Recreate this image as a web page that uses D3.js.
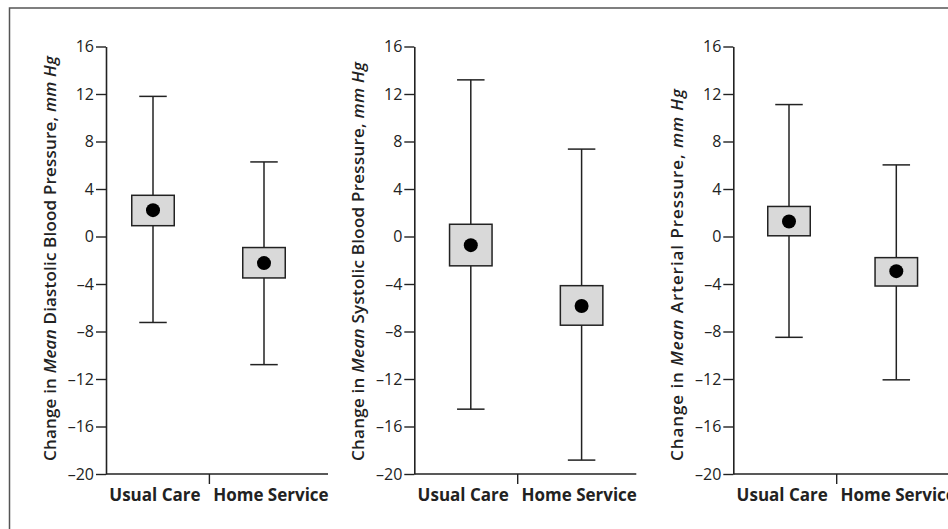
<!DOCTYPE html>
<html>
<head>
<meta charset="utf-8">
<script src="https://cdn.jsdelivr.net/npm/d3@7"></script>
<style>
  html, body { margin: 0; padding: 0; background: #fff; }
  svg { display: block; }
</style>
</head>
<body>
<script>
// ---- data ----
const categories = ["Usual Care", "Home Service"];
const yTicks = [16, 12, 8, 4, 0, -4, -8, -12, -16, -20];
const titlePre = "Change in ";
const titleMean = "Mean";
const titleMain = [
  " Diastolic Blood Pressure, ",
  " Systolic Blood Pressure, ",
  " Arterial Pressure, "
];
const titleUnit = "mm Hg";
const means       = [[2.22, -2.24], [-0.73, -5.85], [1.26, -2.92]];
const boxHigh     = [[3.47, -0.93], [1.03, -4.14], [2.53, -1.78]];
const boxLow      = [[0.91, -3.49], [-2.47, -7.47], [0.06, -4.17]];
const whiskerHigh = [[11.8, 6.28], [13.19, 7.36], [11.11, 6.03]];
const whiskerLow  = [[-7.24, -10.79], [-14.54, -18.83], [-8.49, -12.07]];

// ---- layout ----
const W = 948, H = 529;
const panels = [
  { axisX: 106,   c: [47, 158],     titleLen: 405 },
  { axisX: 414.3, c: [56.5, 167.3], titleLen: 399 },
  { axisX: 733.3, c: [55.7, 163],   titleLen: 372 }
];
const dividerOff = 103.4;
const xAxisLen = 222;
const ink = "#222";

const svg = d3.select("body").append("svg").attr("width", W).attr("height", H);

svg.append("rect")
  .attr("x", 9.5).attr("y", 8).attr("width", 1000).attr("height", 600)
  .attr("fill", "none").attr("stroke", "#555").attr("stroke-width", 1.5);

const y = d3.scaleLinear().domain([-20, 16]).range([474, 46.5]);

panels.forEach((p, i) => {
  const g = svg.append("g");
  const x = d3.scalePoint().domain(categories).range([p.axisX + p.c[0], p.axisX + p.c[1]]);

  // y axis
  const yAxis = d3.axisLeft(y).tickValues(yTicks).tickSize(10).tickSizeOuter(0).tickPadding(2)
    .tickFormat(d => d < 0 ? "\u2013" + Math.abs(d) : String(d));
  const ya = g.append("g").attr("transform", `translate(${p.axisX},0)`).call(yAxis);
  ya.attr("font-size", null).attr("font-family", null);
  ya.select(".domain").attr("stroke", ink).attr("stroke-width", 1.6);
  ya.selectAll(".tick line").attr("stroke", ink).attr("stroke-width", 1.4);
  ya.selectAll(".tick text").attr("fill", ink)
    .attr("font-family", "'Open Sans', sans-serif").attr("font-size", 16);

  // x axis baseline + divider tick
  g.append("line")
    .attr("x1", p.axisX).attr("x2", p.axisX + xAxisLen)
    .attr("y1", y(-20)).attr("y2", y(-20))
    .attr("stroke", ink).attr("stroke-width", 1.6);
  g.append("line")
    .attr("x1", p.axisX + dividerOff).attr("x2", p.axisX + dividerOff)
    .attr("y1", y(-20)).attr("y2", y(-20) + 10)
    .attr("stroke", ink).attr("stroke-width", 1.4);

  // category labels
  const labelX = [p.axisX + dividerOff - 54.5, p.axisX + dividerOff + 61.5];
  g.selectAll("text.cat").data(categories).join("text")
    .attr("class", "cat")
    .attr("x", (d, j) => labelX[j]).attr("y", 501)
    .attr("text-anchor", "middle")
    .attr("font-family", "'Open Sans', sans-serif").attr("font-weight", 700)
    .attr("font-size", 17).attr("fill", ink)
    .text(d => d);

  // title
  const t = g.append("text")
    .attr("transform", `translate(${p.axisX - 50},461) rotate(-90)`)
    .attr("font-family", "'Open Sans', sans-serif").attr("font-weight", 600)
    .attr("font-size", 17).attr("fill", ink);
  t.append("tspan").text(titlePre);
  t.append("tspan").attr("font-style", "italic").text(titleMean);
  t.append("tspan").text(titleMain[i]);
  t.append("tspan").attr("font-style", "italic").text(titleUnit);
  const natural = t.node().getComputedTextLength();
  const nChars = (titlePre + titleMean + titleMain[i] + titleUnit).length;
  t.attr("letter-spacing", (p.titleLen - natural) / (nChars - 1));

  // marks
  const rows = categories.map((c, j) => ({
    c, m: means[i][j], bh: boxHigh[i][j], bl: boxLow[i][j], wh: whiskerHigh[i][j], wl: whiskerLow[i][j]
  }));
  const capW = 27.5, boxW = 42.5;
  const mg = g.selectAll("g.mark").data(rows).join("g").attr("class", "mark");
  mg.append("line")
    .attr("x1", d => x(d.c)).attr("x2", d => x(d.c))
    .attr("y1", d => y(d.wh)).attr("y2", d => y(d.wl))
    .attr("stroke", ink).attr("stroke-width", 1.5);
  mg.append("line")
    .attr("x1", d => x(d.c) - capW / 2).attr("x2", d => x(d.c) + capW / 2)
    .attr("y1", d => y(d.wh)).attr("y2", d => y(d.wh))
    .attr("stroke", ink).attr("stroke-width", 1.5);
  mg.append("line")
    .attr("x1", d => x(d.c) - capW / 2).attr("x2", d => x(d.c) + capW / 2)
    .attr("y1", d => y(d.wl)).attr("y2", d => y(d.wl))
    .attr("stroke", ink).attr("stroke-width", 1.5);
  mg.append("rect")
    .attr("x", d => x(d.c) - boxW / 2).attr("width", boxW)
    .attr("y", d => y(d.bh)).attr("height", d => y(d.bl) - y(d.bh))
    .attr("fill", "#d9d9d9").attr("stroke", ink).attr("stroke-width", 1.5);
  mg.append("circle")
    .attr("cx", d => x(d.c)).attr("cy", d => y(d.m)).attr("r", 7)
    .attr("fill", "#000");
});
</script>
</body>
</html>
